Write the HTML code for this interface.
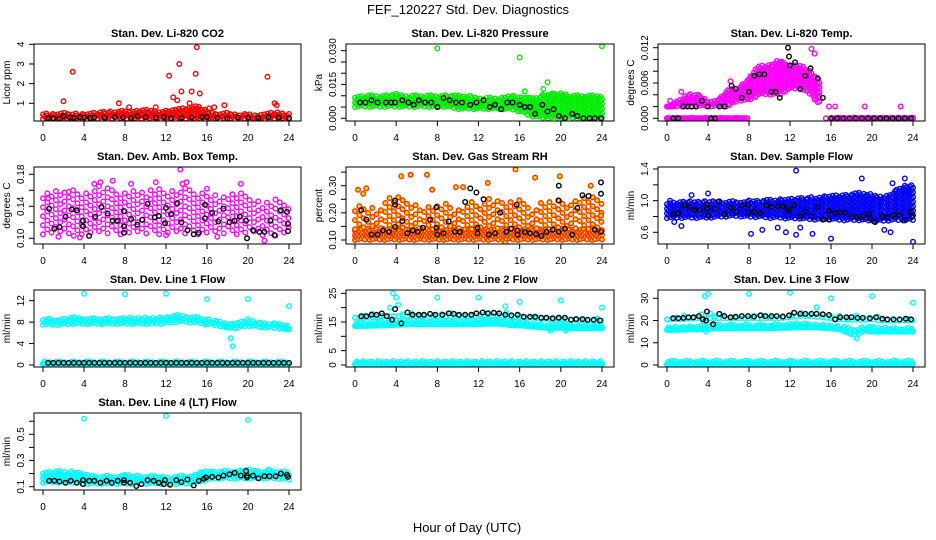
<!DOCTYPE html>
<html><head><meta charset="utf-8"><style>
html,body{margin:0;padding:0;background:#fff;}
svg{display:block;font-family:"Liberation Sans",sans-serif;}
</style></head><body>
<svg id="chart" width="936" height="540" viewBox="0 0 936 540" xmlns="http://www.w3.org/2000/svg">
<text x="468" y="14" text-anchor="middle" font-size="13">FEF_120227  Std. Dev. Diagnostics</text>
<text x="467" y="532" text-anchor="middle" font-size="13">Hour of Day (UTC)</text>
</svg>
<script>
const xTicks = [0,4,8,12,16,20,24];

// ---- CO2 ----
const co2Lo = [0.2,0.2,0.2,0.2,0.2,0.2,0.2,0.2,0.2,0.2,0.2,0.2,0.2,0.2,0.2,0.2,0.2,0.2,0.2,0.2,0.2,0.2,0.2,0.2,0.2];
const co2Hi = [0.45,0.5,0.5,0.5,0.45,0.5,0.55,0.6,0.6,0.65,0.65,0.6,0.6,0.7,0.8,0.9,0.6,0.5,0.55,0.45,0.45,0.4,0.5,0.55,0.45];
const co2Out = [[2,1.1],[2.9,2.6],[7.4,1.0],[8.4,0.8],[11,0.8],[12.3,2.4],[12.7,1.3],[13.3,3.0],[13.1,1.15],[13.5,1.6],[14.3,1.0],[14.5,1.6],[15.0,3.85],[14.9,2.5],[15.3,1.5],[16.2,0.75],[16.7,0.8],[17.7,0.9],[21.9,2.35],[22.6,1.0],[22.8,0.9]];
const co2Black = [[0.5,0.25],[1,0.25],[1.6,0.22],[2,0.35],[2.6,0.28],[3,0.25],[3.6,0.3],[4,0.28],[4.6,0.25],[5,0.28],[6,0.27],[7,0.3],[7.8,0.28],[8.6,0.25],[9.2,0.35],[10,0.3],[11,0.28],[11.8,0.3],[12.5,0.25],[13.5,0.27],[14.5,0.28],[15.5,0.3],[16,0.3],[17,0.25],[18,0.22],[19,0.28],[20,0.27],[21,0.25],[22,0.3],[23,0.28],[24,0.25]];
const co2Yticks = [1,2,3,4];
const co2Ylabels = ["1","2","3","4"];

// ---- Pressure ----
const prLo = [0.005,0.005,0.005,0.005,0.005,0.005,0.005,0.005,0.005,0.005,0.004,0.004,0.004,0.004,0.004,0.004,0.003,0.001,0,0,0,0,0,0,0];
const prHi = [0.009,0.010,0.010,0.010,0.011,0.010,0.010,0.010,0.010,0.010,0.010,0.010,0.009,0.009,0.009,0.010,0.010,0.009,0.010,0.011,0.011,0.010,0.010,0.010,0.010];
const prOut = [[8,0.031],[16,0.027],[18.7,0.016],[18.3,0.013],[16.5,0.012],[24,0.032],[19.2,0.011]];
const prBlack = [[0.5,0.007],[1,0.007],[1.6,0.008],[2.2,0.007],[3,0.007],[3.5,0.007],[3.9,0.007],[4.6,0.008],[5.2,0.007],[5.7,0.006],[6.2,0.008],[6.8,0.007],[7.4,0.007],[8,0.005],[8.6,0.009],[9.2,0.008],[9.8,0.007],[10.4,0.007],[11.2,0.006],[11.8,0.007],[12.5,0.008],[13.1,0.005],[13.6,0.006],[14.2,0.004],[14.8,0.007],[15.3,0.007],[16,0.006],[16.5,0.005],[17,0.005],[17.5,0.002],[18.2,0.006],[18.7,0.003],[19.3,0.004],[19.8,0.001],[20.4,0],[21.1,0.002],[21.6,0.001],[22.2,0],[22.8,0],[23.3,0],[23.9,0]];
const prYticks = [0,0.005,0.010,0.015,0.020,0.025,0.030];
const prYlabels = ["0.000","","","0.015","","","0.030"];

// ---- Li-820 Temp ----
const tmLo = [0.002,0.002,0.002,0.002,0.002,0.002,0.002,0.003,0.003,0.004,0.004,0.004,0.005,0.005,0.004,0.002,null,null,null,null,null,null,null,null,null];
const tmHi = [0.002,0.003,0.004,0.004,0.003,0.003,0.005,0.005,0.007,0.009,0.009,0.010,0.009,0.009,0.008,0.006,null,null,null,null,null,null,null,null,null];
const tmZeroLo = [0,0,0,0,0,0,0,0,0,null,null,null,null,null,null,null,0,0,0,0,0,0,0,0,0];
const tmOut = [[0.3,0.003],[1.4,0.0045],[6.2,0.0063],[11,0.0095],[14.1,0.0118],[14.4,0.011],[19.3,0.002],[22.8,0.002],[15.5,0],[15.8,0.002],[16.4,0.002]];
const tmBlack = [[0.6,0],[1.1,0],[1.6,0.002],[2,0.002],[2.4,0.002],[2.8,0.002],[3.4,0.003],[4,0.002],[4.3,0],[4.7,0],[5.1,0.002],[5.6,0.002],[6.3,0.0055],[6.7,0.005],[7.3,0.0035],[8,0.0045],[8.5,0.0072],[9,0.0075],[9.5,0.0075],[10.2,0.0045],[10.6,0.0045],[11,0.0035],[11.8,0.012],[11.9,0.0105],[12,0.009],[12.5,0.0095],[13,0.005],[13.5,0.0072],[14,0.0085],[14.7,0.0068],[15.2,0.0035],[16,0],[16.6,0],[17.2,0],[17.8,0],[18.4,0],[19,0],[19.6,0],[20.2,0],[20.8,0],[21.4,0],[22,0],[22.6,0],[23.2,0],[23.8,0]];
const tmYticks = [0,0.002,0.004,0.006,0.008,0.010,0.012];
const tmYlabels = ["0.000","","","0.006","","","0.012"];

// ---- Amb Box Temp ----
const abLo = [0.105,0.105,0.105,0.105,0.105,0.105,0.105,0.105,0.105,0.105,0.105,0.105,0.105,0.105,0.105,0.105,0.105,0.105,0.105,0.105,0.105,0.105,0.100,0.105,0.105];
const abHi = [0.155,0.158,0.160,0.160,0.158,0.165,0.165,0.160,0.160,0.160,0.160,0.165,0.160,0.160,0.165,0.160,0.160,0.155,0.155,0.160,0.150,0.150,0.145,0.150,0.145];
const abOut = [[2.5,0.158],[5,0.168],[5.6,0.17],[6.8,0.172],[8.6,0.168],[11,0.17],[13.4,0.186],[13.6,0.168],[14,0.17],[19.3,0.168],[0.5,0.15],[16,0.162],[1.5,0.102],[3,0.103],[3.6,0.101],[12,0.104],[17,0.102],[21.6,0.097]];
const abBlack = [[0.6,0.137],[1.1,0.112],[1.6,0.114],[2.2,0.127],[2.8,0.136],[3.3,0.135],[3.9,0.122],[3.9,0.115],[4.5,0.103],[5.1,0.127],[5.7,0.139],[6.3,0.131],[6.8,0.122],[7.3,0.122],[7.9,0.134],[7.9,0.115],[7.9,0.107],[8.6,0.124],[9.2,0.117],[9.7,0.123],[10.2,0.143],[10.9,0.126],[11.3,0.128],[11.9,0.119],[12,0.138],[12.5,0.13],[13.1,0.144],[13.5,0.12],[14.1,0.11],[14.7,0.105],[15.2,0.107],[15.8,0.142],[15.8,0.125],[16.5,0.132],[17.1,0.121],[17.6,0.137],[18.2,0.12],[18.7,0.122],[19.2,0.127],[19.8,0.122],[19.9,0.1],[20.5,0.11],[21.1,0.108],[21.6,0.108],[22.2,0.122],[22.6,0.104],[23.2,0.135],[23.8,0.133],[23.9,0.118],[23.9,0.109]];
const abYticks = [0.10,0.12,0.14,0.16,0.18];
const abYlabels = ["0.10","","0.14","","0.18"];

// ---- Gas Stream RH ----
const rhLo = [0.10,0.10,0.10,0.10,0.10,0.10,0.10,0.10,0.10,0.10,0.10,0.10,0.10,0.10,0.10,0.10,0.10,0.10,0.10,0.10,0.10,0.10,0.10,0.10,0.10];
const rhHi = [0.14,0.14,0.14,0.14,0.14,0.14,0.14,0.14,0.14,0.14,0.14,0.14,0.14,0.14,0.14,0.14,0.14,0.14,0.14,0.14,0.14,0.14,0.14,0.14,0.14];
const rhSLo = [0.14,0.14,0.14,0.14,0.14,0.14,0.14,0.14,0.14,0.14,0.14,0.14,0.14,0.14,0.14,0.14,0.14,0.14,0.14,0.14,0.14,0.14,0.14,0.14,0.14];
const rhSHi = [0.23,0.23,0.22,0.25,0.26,0.24,0.23,0.22,0.24,0.23,0.22,0.24,0.24,0.26,0.25,0.24,0.25,0.22,0.24,0.25,0.26,0.23,0.26,0.27,0.24];
const rhOut = [[0.3,0.285],[0.8,0.27],[1.1,0.29],[4.5,0.335],[5.4,0.34],[7,0.34],[7.5,0.285],[9.8,0.295],[10.5,0.295],[12.9,0.31],[15.6,0.36],[17.5,0.33],[19.9,0.335],[22.9,0.3],[14.6,0.09],[23.9,0.19]];
const rhBlack = [[0.6,0.21],[1.1,0.175],[1.6,0.12],[2.2,0.12],[2.7,0.135],[3.3,0.13],[3.9,0.245],[3.9,0.23],[3.9,0.148],[4.6,0.17],[5.1,0.125],[5.6,0.135],[6.1,0.13],[6.6,0.145],[7.3,0.175],[7.9,0.22],[7.9,0.145],[8,0.12],[8.6,0.125],[9.1,0.168],[9.7,0.13],[10.2,0.13],[10.7,0.24],[11.2,0.29],[11.8,0.275],[11.9,0.145],[11.9,0.125],[12.5,0.25],[13,0.12],[13.6,0.125],[14.1,0.2],[14.7,0.13],[15.2,0.142],[15.7,0.23],[15.8,0.135],[15.8,0.12],[16.5,0.13],[17,0.125],[17.6,0.122],[18.1,0.115],[18.6,0.13],[19.2,0.138],[19.8,0.3],[19.8,0.245],[19.8,0.13],[20.4,0.142],[21.1,0.12],[21.6,0.218],[22.1,0.265],[22.7,0.262],[23.3,0.138],[23.9,0.312],[23.9,0.27],[23.9,0.13]];
const rhYticks = [0.10,0.15,0.20,0.25,0.30,0.35];
const rhYlabels = ["0.10","","0.20","","0.30",""];

// ---- Sample Flow ----
const sfLo = [0.78,0.78,0.78,0.78,0.78,0.79,0.8,0.8,0.79,0.79,0.78,0.78,0.77,0.77,0.76,0.76,0.76,0.75,0.75,0.75,0.74,0.74,0.75,0.75,0.75];
const sfHi = [0.98,0.98,0.99,0.99,1.0,0.98,0.99,0.99,1.0,1.0,1.01,1.02,1.02,1.03,1.04,1.05,1.06,1.06,1.08,1.1,1.08,1.05,1.1,1.18,1.2];
const sfOut = [[0.3,1.0],[0.7,0.73],[1.4,0.68],[2.4,1.07],[4,1.09],[8.2,0.58],[9.3,0.63],[10.8,0.66],[11.6,0.6],[12.6,1.38],[12.6,0.57],[14.2,0.58],[16,0.52],[13,0.66],[19,1.28],[23.2,1.28],[21.2,0.63],[21.8,0.6],[24,0.48],[22,1.22]];
const sfBlack = [[0.6,0.83],[1.1,0.84],[1.7,0.94],[2.2,0.92],[2.7,0.88],[3.2,0.88],[3.9,0.95],[3.9,0.9],[4,0.81],[4.6,0.9],[5.1,0.99],[5.6,0.83],[6.2,0.91],[6.7,0.86],[7.3,0.94],[7.9,0.95],[7.9,0.85],[8.5,0.86],[9.1,0.84],[9.7,0.94],[10.2,0.92],[10.8,0.93],[11.3,0.93],[11.8,0.9],[11.9,0.87],[12.4,0.94],[13,0.8],[13.5,0.86],[14.1,0.8],[14.7,0.92],[15.2,0.76],[15.8,0.87],[15.8,0.76],[16.4,0.84],[16.9,0.85],[17.4,0.85],[18,0.8],[18.5,0.79],[19.1,0.8],[19.7,0.83],[19.8,0.77],[20.3,0.73],[21,0.8],[21.5,0.79],[22.1,0.82],[22.6,0.82],[23.2,0.75],[23.8,0.86],[23.9,0.8]];
const sfYticks = [0.6,0.8,1.0,1.2,1.4];
const sfYlabels = ["0.6","","1.0","","1.4"];

// ---- Line 1 ----
const l1Lo = [7.5,7.4,7.5,7.6,7.6,7.6,7.6,7.6,7.6,7.6,7.6,7.6,7.7,8.0,8.0,7.8,7.5,7.3,7.0,6.8,7.3,7.0,6.9,6.8,6.7];
const l1Hi = [8.6,8.5,8.6,8.9,8.7,8.7,8.7,8.7,8.8,8.8,8.8,8.8,8.9,9.3,9.1,8.9,8.6,8.3,7.8,7.8,8.5,8.0,7.8,7.7,7.5];
const l1BLo = [0.2,0.2,0.2,0.2,0.2,0.2,0.2,0.2,0.2,0.2,0.2,0.2,0.2,0.2,0.2,0.2,0.2,0.2,0.2,0.2,0.2,0.2,0.2,0.2,0.2];
const l1BHi = [0.6,0.6,0.6,0.6,0.6,0.6,0.6,0.6,0.6,0.6,0.6,0.6,0.6,0.6,0.6,0.6,0.6,0.6,0.6,0.6,0.6,0.6,0.6,0.6,0.6];
const l1Out = [[4,13.3],[8,13.2],[12,13.3],[16,12.3],[20,12.3],[24,11],[18.3,5],[18.5,3.5]];
const l1Black = [[0.5,0.4],[1,0.4],[1.5,0.4],[2,0.4],[2.5,0.4],[3,0.4],[3.5,0.4],[4,0.4],[4.5,0.4],[5,0.4],[5.5,0.4],[6,0.4],[6.5,0.4],[7,0.4],[7.5,0.4],[8,0.4],[8.5,0.4],[9,0.4],[9.5,0.4],[10,0.4],[10.5,0.4],[11,0.4],[11.5,0.4],[12,0.4],[12.5,0.4],[13,0.4],[13.5,0.4],[14,0.4],[14.5,0.4],[15,0.4],[15.5,0.4],[16,0.4],[16.5,0.4],[17,0.4],[17.5,0.4],[18,0.4],[18.5,0.4],[19,0.4],[19.5,0.4],[20,0.4],[20.5,0.4],[21,0.4],[21.5,0.4],[22,0.4],[22.5,0.4],[23,0.4],[23.5,0.4],[24,0.4]];
const l1Yticks = [0,4,8,12];
const l1Ylabels = ["0","4","8","12"];

// ---- Line 2 ----
const l2Lo = [13.6,13.6,13.8,13.8,14.0,14.2,14.2,14.2,14.2,14.2,14.2,14.2,14.2,14.4,14.4,14.0,13.8,13.5,13.2,12.8,13.0,12.8,12.8,12.8,12.8];
const l2Hi = [14.8,14.8,15.0,15.2,15.4,15.4,15.4,15.4,15.4,15.4,15.4,15.4,15.6,16.0,15.8,15.4,15.0,14.6,14.3,14.0,14.6,14.0,13.8,13.8,13.8];
const l2ULo = [16.5,16.5,16.8,17,17,17,17,17,17,17,17,17,17,17,17,16.8,16.5,16.5,16.2,16,16,15.8,15.6,15.5,15.5];
const l2UHi = [17.5,17.5,17.8,18,18.5,18.2,18,18,18,18,18,18,18.5,18.8,18.5,18,17.5,17.2,17,16.8,17,16.5,16.2,16,16];
const l2BLo = [0.3,0.3,0.3,0.3,0.3,0.3,0.3,0.3,0.3,0.3,0.3,0.3,0.3,0.3,0.3,0.3,0.3,0.3,0.3,0.3,0.3,0.3,0.3,0.3,0.3];
const l2BHi = [1.3,1.3,1.3,1.3,1.3,1.3,1.3,1.3,1.3,1.3,1.3,1.3,1.3,1.3,1.3,1.3,1.3,1.3,1.3,1.3,1.3,1.3,1.3,1.3,1.3];
const l2Out = [[3.7,25],[4,23.5],[4.2,21],[3.4,20],[8,23.5],[12,23.5],[14.6,20.5],[16,22],[20,22.5],[24,20],[19,12],[20.5,12]];
const l2Black = [[0.6,17],[1.1,17],[1.6,17.5],[2.1,17.5],[2.6,18],[3.1,17],[3.6,15.8],[3.9,19.5],[4.5,14.5],[5.1,18.3],[5.6,17.5],[6.2,17.5],[6.7,17.5],[7.3,17.8],[7.8,17.5],[8.5,17.5],[9.1,18],[9.6,17.8],[10.1,17.5],[10.7,17.5],[11.3,17.5],[11.8,18],[12.4,18.3],[12.9,18],[13.5,18.2],[14,18],[14.6,17.5],[15.2,17.3],[15.8,17.5],[16.4,16.8],[17,16.8],[17.5,16.8],[18.1,16.5],[18.6,16.5],[19.2,16.3],[19.8,16.5],[20.4,16.5],[21,15.8],[21.5,16],[22.1,16],[22.6,15.8],[23.2,15.8],[23.8,15.5]];
const l2Yticks = [0,5,10,15,20,25];
const l2Ylabels = ["0","5","","15","","25"];

// ---- Line 3 ----
const l3Lo = [15.8,15.8,16,16,16.3,16.5,16.5,16.5,16.5,16.5,16.5,16.7,16.8,17,17,16.8,16.5,16,13,14.5,15,15,15,15,15];
const l3Hi = [17.2,17.2,17.4,17.6,18,18,18,18,18,18,18,18.2,18.4,18.8,18.6,18.2,17.8,17.5,16,17,17,16.8,16.5,16.5,16.5];
const l3ULo = [20.5,20.5,20.8,21,21,21,21,21,21,21,21,21,21.5,22,22,21.5,21,20.5,20.3,20.3,20.5,20,20,20,20];
const l3UHi = [22,22,22,22.5,24,23,22.5,22.5,22.5,22.5,22.5,22.5,23.5,24,23.5,23,22.5,22,22,22,22.5,21.5,21.3,21.3,21];
const l3BLo = [0.3,0.3,0.3,0.3,0.3,0.3,0.3,0.3,0.3,0.3,0.3,0.3,0.3,0.3,0.3,0.3,0.3,0.3,0.3,0.3,0.3,0.3,0.3,0.3,0.3];
const l3BHi = [1.8,1.8,1.8,1.8,1.8,1.8,1.8,1.8,1.8,1.8,1.8,1.8,1.8,1.8,1.8,1.8,1.8,1.8,1.8,1.8,1.8,1.8,1.8,1.8,1.8];
const l3Out = [[3.7,31],[4,32],[8,32],[12,32.5],[14.6,26],[16,30],[20,31],[24,28],[18.5,12],[3.8,15]];
const l3Black = [[0.6,21],[1.1,21],[1.6,21.2],[2.1,21.5],[2.6,21.5],[3.1,22],[3.5,20.5],[3.8,20],[3.9,24],[4.5,18.3],[5.1,23],[5.6,22],[6.2,21.5],[6.7,21.7],[7.3,22],[7.9,22],[8.5,21.8],[9.1,22.3],[9.6,22],[10.2,22],[10.7,22],[11.3,21.8],[11.9,22.3],[12.4,23.5],[13,23],[13.5,23],[14.1,23],[14.6,23],[15.2,22.8],[15.8,22.5],[16.4,20.5],[16.9,21.5],[17.5,21.5],[18,21.5],[18.6,21.2],[19.1,21.2],[19.8,21],[20.4,21.5],[21,20.8],[21.5,20.5],[22.1,20.5],[22.7,20.5],[23.3,20.8],[23.8,20.5]];
const l3Yticks = [0,10,20,30];
const l3Ylabels = ["0","10","20","30"];

// ---- Line 4 ----
const l4Lo = [0.13,0.13,0.13,0.13,0.12,0.12,0.12,0.12,0.12,0.12,0.12,0.12,0.12,0.12,0.12,0.13,0.15,0.16,0.16,0.16,0.16,0.16,0.16,0.16,0.15];
const l4Hi = [0.21,0.22,0.22,0.21,0.2,0.18,0.18,0.18,0.19,0.18,0.18,0.18,0.17,0.18,0.18,0.2,0.22,0.22,0.22,0.22,0.23,0.22,0.22,0.22,0.21];
const l4Out = [[4,0.62],[12,0.64],[20,0.61],[8,0.19],[22,0.23]];
const l4Black = [[0.6,0.145],[1.1,0.145],[1.6,0.14],[2.2,0.13],[2.7,0.145],[3.3,0.13],[3.9,0.15],[3.9,0.12],[4.5,0.145],[5,0.145],[5.6,0.13],[6.2,0.145],[6.7,0.13],[7.3,0.145],[7.9,0.15],[7.9,0.13],[8.5,0.13],[9.1,0.105],[9.6,0.12],[10.2,0.15],[10.8,0.145],[11.3,0.13],[11.8,0.12],[11.9,0.15],[12.4,0.115],[13,0.15],[13.5,0.135],[14.1,0.155],[14.7,0.11],[15.2,0.145],[15.7,0.16],[15.9,0.17],[16.5,0.175],[17.1,0.17],[17.6,0.185],[18.2,0.195],[18.7,0.205],[19.3,0.185],[19.8,0.22],[19.9,0.185],[19.9,0.17],[20.5,0.185],[21,0.165],[21.6,0.18],[22.1,0.18],[22.7,0.18],[23.2,0.2],[23.8,0.19],[23.9,0.175]];
const l4Yticks = [0.1,0.2,0.3,0.4,0.5,0.6];
const l4Ylabels = ["0.1","","0.3","","0.5",""];

const svg = document.getElementById('chart');
const NS = 'http://www.w3.org/2000/svg';
function mk(tag, attrs, parent){const e=document.createElementNS(NS,tag);for(const k in attrs)e.setAttribute(k,attrs[k]);(parent||svg).appendChild(e);return e;}

const cols = [{x0:43,x24:289},{x0:355,x24:602},{x0:667,x24:913}];
const rows = [44,167,290,413];
const BH = 77;
const jit = [0,0.55,0.2,0.8,0.35,0.65,0.1,0.9,0.45];

function panel(o){
  const c = cols[o.col], top = rows[o.row], bot = top + BH;
  const g = mk('g',{});
  
  
  const xs = h => c.x0 + (c.x24 - c.x0) * h / 24;
  const ys = v => o.py1 + (v - o.v1) * (o.py2 - o.py1) / (o.v2 - o.v1);
  const L = c.x0 - 9, R = c.x24 + 12;
  const t = mk('text',{x:(L+R)/2,y:top-7,'text-anchor':'middle','font-size':11,'font-weight':'bold'},g);
  t.textContent = o.title;
  
  
  const cid = 'clip'+o.col+o.row;
  const cp = mk('clipPath',{id:cid},g); mk('rect',{x:L,y:top,width:R-L,height:BH},cp);
  const pts = mk('g',{'clip-path':'url(#'+cid+')'},g);
  const dot = (x,y,col,fill,r) => mk('circle',{cx:x.toFixed(1),cy:y.toFixed(1),r:r||2.3,fill:fill||'none',stroke:col,'stroke-width':1.4},pts);
  (o.bands||[]).forEach(b=>{
    const step = b.sparse ? 0.42 : 0.16, pstep = b.sparse ? 9 : 4.6;
    let k=0;
    for(let h=0; h<=24.001; h+=step, k++){
      const i=Math.min(23,Math.floor(h)), f=h-i;
      if(b.lo[i]==null||b.lo[i+1]==null) continue;
      const lo=b.lo[i]+(b.lo[i+1]-b.lo[i])*f, hi=b.hi[i]+(b.hi[i+1]-b.hi[i])*f;
      const y1=ys(lo), y2=ys(hi);
      const off=jit[k%jit.length]*pstep;
      for(let y=y1-off; y>=y2-0.5; y-=pstep){ dot(xs(h),y,o.color,o.fill); }
      if (y1-y2<pstep) dot(xs(h),y1,o.color,o.fill);
    }
  });
  (o.out||[]).forEach(p=>{ const d=dot(xs(p[0]),ys(p[1]),o.color,o.fill);
    
     });
  (o.black||[]).forEach(p=>{ const d=dot(xs(p[0]),ys(p[1]),'#000','none');
    
     });
  const box = mk('rect',{x:L,y:top,width:R-L,height:BH,fill:'none',stroke:'#000','stroke-width':1},g);
  
  
  mk('line',{x1:xs(0),x2:xs(24),y1:bot,y2:bot,stroke:'#000'},g);
  xTicks.forEach(h=>{
    mk('line',{x1:xs(h),x2:xs(h),y1:bot,y2:bot+5,stroke:'#000'},g);
    const tx = mk('text',{x:xs(h),y:bot+20,'text-anchor':'middle','font-size':10},g);
    tx.textContent = h;
    
    
  });
  const yt=o.yticks;
  mk('line',{x1:L,x2:L,y1:ys(yt[0]),y2:ys(yt[yt.length-1]),stroke:'#000'},g);
  yt.forEach((v,i)=>{
    const y=ys(v);
    mk('line',{x1:L-5,x2:L,y1:y,y2:y,stroke:'#000'},g);
    if(o.ylabels[i]){
      const tx = mk('text',{x:L-10,y:y,'text-anchor':'middle','font-size':10,transform:'rotate(-90 '+(L-10)+' '+y+')'},g);
      tx.textContent=o.ylabels[i];
      
      
    }
  });
  const yl = mk('text',{x:L-24,y:(top+bot)/2,'text-anchor':'middle','font-size':10,transform:'rotate(-90 '+(L-24)+' '+((top+bot)/2)+')'},g);
  yl.textContent=o.ylab;
  
  
}

panel({name:'panel-co2',col:0,row:0,title:'Stan. Dev. Li-820 CO2',ylab:'Licor ppm',color:'#ff0000',v1:4,py1:44.3,v2:1,py2:103.3,yticks:co2Yticks,ylabels:co2Ylabels,bands:[{lo:co2Lo,hi:co2Hi}],out:co2Out,black:co2Black});
panel({name:'panel-pressure',col:1,row:0,title:'Stan. Dev. Li-820 Pressure',ylab:'kPa',color:'#00ee00',v1:0.030,py1:50.7,v2:0,py2:118.3,yticks:prYticks,ylabels:prYlabels,bands:[{lo:prLo,hi:prHi}],out:prOut,black:prBlack});
panel({name:'panel-li820-temp',col:2,row:0,title:'Stan. Dev. Li-820 Temp.',ylab:'degrees C',color:'#ff00ff',v1:0.012,py1:47.7,v2:0,py2:118.3,yticks:tmYticks,ylabels:tmYlabels,bands:[{lo:tmLo,hi:tmHi},{lo:tmZeroLo,hi:tmZeroLo}],out:tmOut,black:tmBlack});
panel({name:'panel-amb-box-temp',col:0,row:1,title:'Stan. Dev. Amb. Box Temp.',ylab:'degrees C',color:'#ff00ff',v1:0.18,py1:174.3,v2:0.10,py2:238.3,yticks:abYticks,ylabels:abYlabels,bands:[{lo:abLo,hi:abHi,sparse:true}],out:abOut,black:abBlack});
panel({name:'panel-gas-rh',col:1,row:1,title:'Stan. Dev. Gas Stream RH',ylab:'percent',color:'#ff3000',fill:'#ffe000',v1:0.30,py1:185.7,v2:0.10,py2:240,yticks:rhYticks,ylabels:rhYlabels,bands:[{lo:rhLo,hi:rhHi},{lo:rhSLo,hi:rhSHi,sparse:true}],out:rhOut,black:rhBlack});
panel({name:'panel-sample-flow',col:2,row:1,title:'Stan. Dev. Sample Flow',ylab:'ml/min',color:'#0000ff',v1:1.4,py1:169,v2:0.6,py2:232.3,yticks:sfYticks,ylabels:sfYlabels,bands:[{lo:sfLo,hi:sfHi}],out:sfOut,black:sfBlack});
panel({name:'panel-line1-flow',col:0,row:2,title:'Stan. Dev. Line 1 Flow',ylab:'ml/min',color:'#00ffff',v1:12,py1:300.7,v2:0,py2:365,yticks:l1Yticks,ylabels:l1Ylabels,bands:[{lo:l1Lo,hi:l1Hi},{lo:l1BLo,hi:l1BHi}],out:l1Out,black:l1Black});
panel({name:'panel-line2-flow',col:1,row:2,title:'Stan. Dev. Line 2 Flow',ylab:'ml/min',color:'#00ffff',v1:25,py1:293.3,v2:0,py2:365,yticks:l2Yticks,ylabels:l2Ylabels,bands:[{lo:l2Lo,hi:l2Hi},{lo:l2ULo,hi:l2UHi,sparse:true},{lo:l2BLo,hi:l2BHi}],out:l2Out,black:l2Black});
panel({name:'panel-line3-flow',col:2,row:2,title:'Stan. Dev. Line 3 Flow',ylab:'ml/min',color:'#00ffff',v1:30,py1:298.3,v2:0,py2:365,yticks:l3Yticks,ylabels:l3Ylabels,bands:[{lo:l3Lo,hi:l3Hi},{lo:l3ULo,hi:l3UHi,sparse:true},{lo:l3BLo,hi:l3BHi}],out:l3Out,black:l3Black});
panel({name:'panel-line4-flow',col:0,row:3,title:'Stan. Dev. Line 4 (LT) Flow',ylab:'ml/min',color:'#00ffff',v1:0.5,py1:434.3,v2:0.1,py2:486.7,yticks:l4Yticks,ylabels:l4Ylabels,bands:[{lo:l4Lo,hi:l4Hi}],out:l4Out,black:l4Black});
</script>
</body></html>
